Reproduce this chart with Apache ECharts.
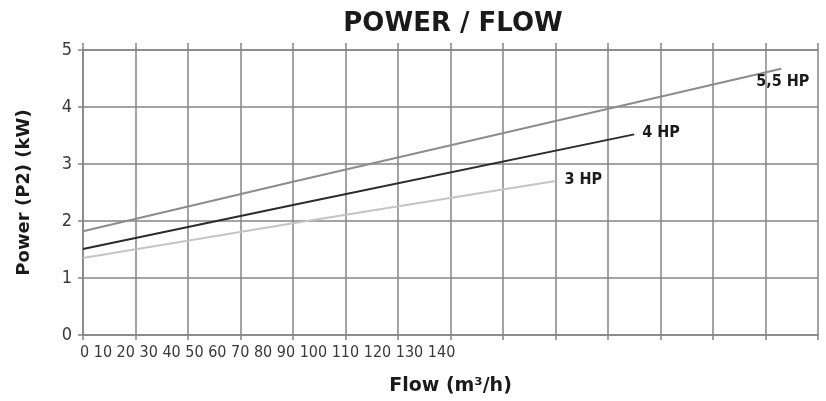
<!DOCTYPE html>
<html>
<head>
<meta charset="utf-8">
<script src="https://cdn.jsdelivr.net/npm/echarts@6/dist/echarts.min.js"></script>
<style>
  html, body { margin: 0; padding: 0; background: #fff; }
  #chart { width: 826px; height: 401px; }
</style>
</head>
<body>
<div id="chart"></div>
<script>
// values (grid runs 0..280 in steps of 20)
const flowTickLabels = [0, 10, 20, 30, 40, 50, 60, 70, 80, 90, 100, 110, 120, 130, 140];
const powerTicks = [0, 1, 2, 3, 4, 5];
const seriesNames = ['5,5 HP', '4 HP', '3 HP'];
const flow55 = [0, 80, 266];
const power55 = [1.82, 2.69, 4.67];
const flow4 = [0, 80, 210];
const power4 = [1.51, 2.28, 3.52];
const flow3 = [0, 80, 180];
const power3 = [1.35, 1.96, 2.70];

const gridColor = '#858585';
const narrow = '"DejaVu Sans Condensed", sans-serif';
const bold = '"DejaVu Sans", sans-serif';

const chart = echarts.init(document.getElementById('chart'));

function pairs(xs, ys) {
  return xs.map((x, i) => [x, ys[i]]);
}

function lineSeries(name, xs, ys, color, offset) {
  return {
    name: name,
    type: 'line',
    xAxisIndex: 0,
    yAxisIndex: 0,
    data: pairs(xs, ys),
    symbol: 'none',
    lineStyle: { color: color, width: 2 },
    endLabel: {
      show: true,
      formatter: '{a}',
      distance: 0,
      offset: offset,
      align: 'left',
      verticalAlign: 'middle',
      fontFamily: narrow,
      fontWeight: 'bold',
      fontSize: 16,
      color: '#1a1a1a'
    }
  };
}

chart.setOption({
  animation: false,
  title: {
    text: 'POWER / FLOW',
    left: 448,
    top: 6,
    textAlign: 'center',
    textStyle: { fontFamily: bold, fontWeight: 'bold', fontSize: 26, color: '#1a1a1a' }
  },
  grid: { left: 83, right: 8, top: 50, bottom: 63 },
  xAxis: [
    {
      type: 'value',
      position: 'bottom',
      min: 0,
      max: 280,
      interval: 20,
      name: 'Flow (m³/h)',
      nameLocation: 'middle',
      nameGap: 42,
      nameTextStyle: { fontFamily: bold, fontWeight: 'bold', fontSize: 19, color: '#1a1a1a' },
      axisLine: { show: true, lineStyle: { color: gridColor, width: 1.5 } },
      axisTick: { show: true, length: 5, lineStyle: { color: gridColor, width: 1.5 } },
      axisLabel: { show: false },
      splitLine: { show: true, lineStyle: { color: gridColor, width: 1.5 } }
    },
    {
      type: 'value',
      position: 'top',
      min: 0,
      max: 280,
      interval: 20,
      axisLine: { show: true, lineStyle: { color: gridColor, width: 1.5 } },
      axisTick: { show: true, length: 7, lineStyle: { color: gridColor, width: 1.5 } },
      axisLabel: { show: false },
      splitLine: { show: false }
    },
    {
      // the flow labels are printed as one run of text under the grid
      type: 'value',
      position: 'bottom',
      min: 0,
      max: 1,
      interval: 1,
      axisLine: { show: false },
      axisTick: { show: false },
      splitLine: { show: false },
      axisLabel: {
        show: true,
        margin: 10,
        align: 'left',
        padding: [0, 0, 0, -3],
        fontFamily: narrow,
        fontSize: 16,
        color: '#3a3a3a',
        formatter: (v) => (v === 0 ? flowTickLabels.join(' ') : '')
      }
    }
  ],
  yAxis: [
    {
      type: 'value',
      min: powerTicks[0],
      max: powerTicks[powerTicks.length - 1],
      interval: 1,
      name: 'Power (P2) (kW)',
      nameLocation: 'middle',
      nameGap: 50,
      nameRotate: 90,
      nameTextStyle: { fontFamily: bold, fontWeight: 'bold', fontSize: 18, color: '#1a1a1a' },
      axisLine: { show: true, lineStyle: { color: gridColor, width: 1.5 } },
      axisTick: { show: true, length: 5, lineStyle: { color: gridColor, width: 1.5 } },
      axisLabel: { margin: 11, fontFamily: narrow, fontSize: 18, color: '#3a3a3a' },
      splitLine: { show: true, lineStyle: { color: gridColor, width: 1.5 } }
    }
  ],
  series: [
    lineSeries(seriesNames[0], flow55, power55, '#8c8c8c', [-25, 13]),
    lineSeries(seriesNames[1], flow4, power4, '#2b2b2b', [8, -2]),
    lineSeries(seriesNames[2], flow3, power3, '#c4c4c4', [9, -1])
  ]
});
</script>
</body>
</html>
